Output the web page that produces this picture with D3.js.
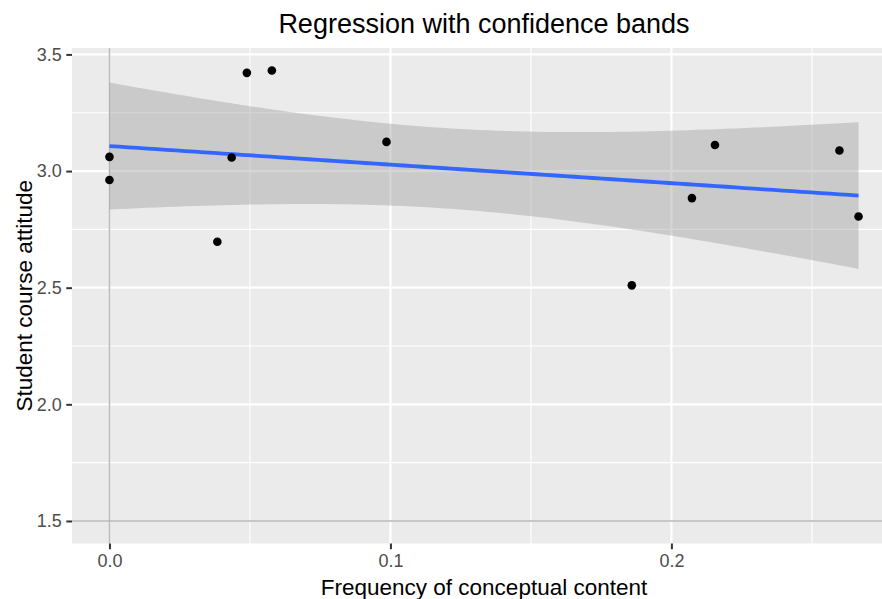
<!DOCTYPE html>
<html>
<head>
<meta charset="utf-8">
<script src="https://cdn.jsdelivr.net/npm/d3@7"></script>
<style>
  html, body { margin: 0; padding: 0; background: #fff; }
  svg { display: block; font-family: "Liberation Sans", Arial, sans-serif; }
</style>
</head>
<body>
<svg id="chart" width="882" height="599"></svg>
<script>
// Observations: frequency of conceptual content vs. student course attitude
const conceptFreq = [0, 0, 0.0384, 0.0435, 0.0489, 0.0578, 0.0986, 0.1859, 0.2073, 0.2155, 0.2598, 0.2666];
const attitude    = [3.061, 2.962, 2.697, 3.058, 3.421, 3.431, 3.125, 2.510, 2.884, 3.112, 3.088, 2.805];

// Reference lines
const refX = [0];
const refY = [1.5];

// Axis breaks
const xTicks = [0, 0.1, 0.2];
const xTickLabels = ["0.0", "0.1", "0.2"];
const xMinor = [0.05, 0.15, 0.25];
const yTicks = [1.5, 2.0, 2.5, 3.0, 3.5];
const yTickLabels = ["1.5", "2.0", "2.5", "3.0", "3.5"];
const yMinor = [1.75, 2.25, 2.75, 3.25];

// 97.5% quantile of Student's t with n - 2 = 10 degrees of freedom
const tCrit = 2.228139;

const svg = d3.select("#chart");
const panel = { left: 72, top: 48, width: 824, height: 495.5 };

// Ordinary least squares fit
const n = conceptFreq.length;
const mx = d3.mean(conceptFreq), my = d3.mean(attitude);
let sxx = 0, sxy = 0;
for (let i = 0; i < n; i++) {
  sxx += (conceptFreq[i] - mx) ** 2;
  sxy += (conceptFreq[i] - mx) * (attitude[i] - my);
}
const slope = sxy / sxx;
const intercept = my - slope * mx;
let sse = 0;
for (let i = 0; i < n; i++) sse += (attitude[i] - (intercept + slope * conceptFreq[i])) ** 2;
const s = Math.sqrt(sse / (n - 2));

const [x0, x1] = d3.extent(conceptFreq);
const fit = d3.range(80).map(k => {
  const xv = x0 + (x1 - x0) * k / 79;
  const yv = intercept + slope * xv;
  const se = s * Math.sqrt(1 / n + (xv - mx) ** 2 / sxx);
  return { x: xv, y: yv, lo: yv - tCrit * se, hi: yv + tCrit * se };
});

// Scales with 5% expansion like ggplot
const xExt = d3.extent(conceptFreq.concat(refX));
const yExt = d3.extent(attitude.concat(refY, fit.map(d => d.lo), fit.map(d => d.hi)));
const xPad = (xExt[1] - xExt[0]) * 0.05, yPad = (yExt[1] - yExt[0]) * 0.05;
const x = d3.scaleLinear().domain([xExt[0] - xPad, xExt[1] + xPad])
  .range([panel.left, panel.left + panel.width]);
const y = d3.scaleLinear().domain([yExt[0] - yPad, yExt[1] + yPad])
  .range([panel.top + panel.height, panel.top]);

// Panel background
svg.append("rect")
  .attr("x", panel.left).attr("y", panel.top)
  .attr("width", panel.width).attr("height", panel.height)
  .attr("fill", "#EBEBEB");

const grid = svg.append("g");
grid.selectAll(".xminor").data(xMinor).join("line")
  .attr("x1", d => x(d)).attr("x2", d => x(d))
  .attr("y1", panel.top).attr("y2", panel.top + panel.height)
  .attr("stroke", "#fff").attr("stroke-width", 1.1);
grid.selectAll(".yminor").data(yMinor).join("line")
  .attr("y1", d => y(d)).attr("y2", d => y(d))
  .attr("x1", panel.left).attr("x2", panel.left + panel.width)
  .attr("stroke", "#fff").attr("stroke-width", 1.1);
grid.selectAll(".xmajor").data(xTicks).join("line")
  .attr("x1", d => x(d)).attr("x2", d => x(d))
  .attr("y1", panel.top).attr("y2", panel.top + panel.height)
  .attr("stroke", "#fff").attr("stroke-width", 2.2);
grid.selectAll(".ymajor").data(yTicks).join("line")
  .attr("y1", d => y(d)).attr("y2", d => y(d))
  .attr("x1", panel.left).attr("x2", panel.left + panel.width)
  .attr("stroke", "#fff").attr("stroke-width", 2.2);

// Reference lines
svg.selectAll(".vref").data(refX).join("line")
  .attr("x1", d => x(d)).attr("x2", d => x(d))
  .attr("y1", panel.top).attr("y2", panel.top + panel.height)
  .attr("stroke", "#BABABA").attr("stroke-width", 1.6);
svg.selectAll(".href").data(refY).join("line")
  .attr("y1", d => y(d)).attr("y2", d => y(d))
  .attr("x1", panel.left).attr("x2", panel.left + panel.width)
  .attr("stroke", "#B5B5B5").attr("stroke-width", 1.6);

// Confidence band and fitted line
svg.append("path").datum(fit)
  .attr("d", d3.area().x(d => x(d.x)).y0(d => y(d.lo)).y1(d => y(d.hi)))
  .attr("fill", "#999999").attr("fill-opacity", 0.4);
svg.append("path").datum(fit)
  .attr("d", d3.line().x(d => x(d.x)).y(d => y(d.y)))
  .attr("fill", "none").attr("stroke", "#3366FF").attr("stroke-width", 3.8);

// Points
svg.selectAll(".pt").data(conceptFreq.map((v, i) => [v, attitude[i]])).join("circle")
  .attr("cx", d => x(d[0])).attr("cy", d => y(d[1])).attr("r", 4.3)
  .attr("fill", "#000");

// Axes
const xAxis = d3.axisBottom(x).tickValues(xTicks)
  .tickFormat((d, i) => xTickLabels[i]).tickSize(5.7).tickPadding(4.6);
const gx = svg.append("g").attr("transform", `translate(0,${panel.top + panel.height})`).call(xAxis);
const yAxis = d3.axisLeft(y).tickValues(yTicks)
  .tickFormat((d, i) => yTickLabels[i]).tickSize(5.7).tickPadding(4.6);
const gy = svg.append("g").attr("transform", `translate(${panel.left},0)`).call(yAxis);
[gx, gy].forEach(g => {
  g.select(".domain").remove();
  g.selectAll(".tick line").attr("stroke", "#333333").attr("stroke-width", 2);
  g.selectAll(".tick text").attr("fill", "#4D4D4D")
    .style("font-size", "18px").style("font-family", "'Liberation Sans', Arial, sans-serif");
});

// Titles
svg.append("text")
  .attr("x", panel.left + panel.width / 2).attr("y", 33)
  .attr("text-anchor", "middle").attr("fill", "#000")
  .style("font-size", "27px")
  .text("Regression with confidence bands");
svg.append("text")
  .attr("x", panel.left + panel.width / 2).attr("y", 595)
  .attr("text-anchor", "middle").attr("fill", "#000")
  .style("font-size", "22.5px")
  .text("Frequency of conceptual content");
svg.append("text")
  .attr("transform", `translate(32,${panel.top + panel.height / 2}) rotate(-90)`)
  .attr("text-anchor", "middle").attr("fill", "#000")
  .style("font-size", "22.5px")
  .text("Student course attitude");
</script>
</body>
</html>
